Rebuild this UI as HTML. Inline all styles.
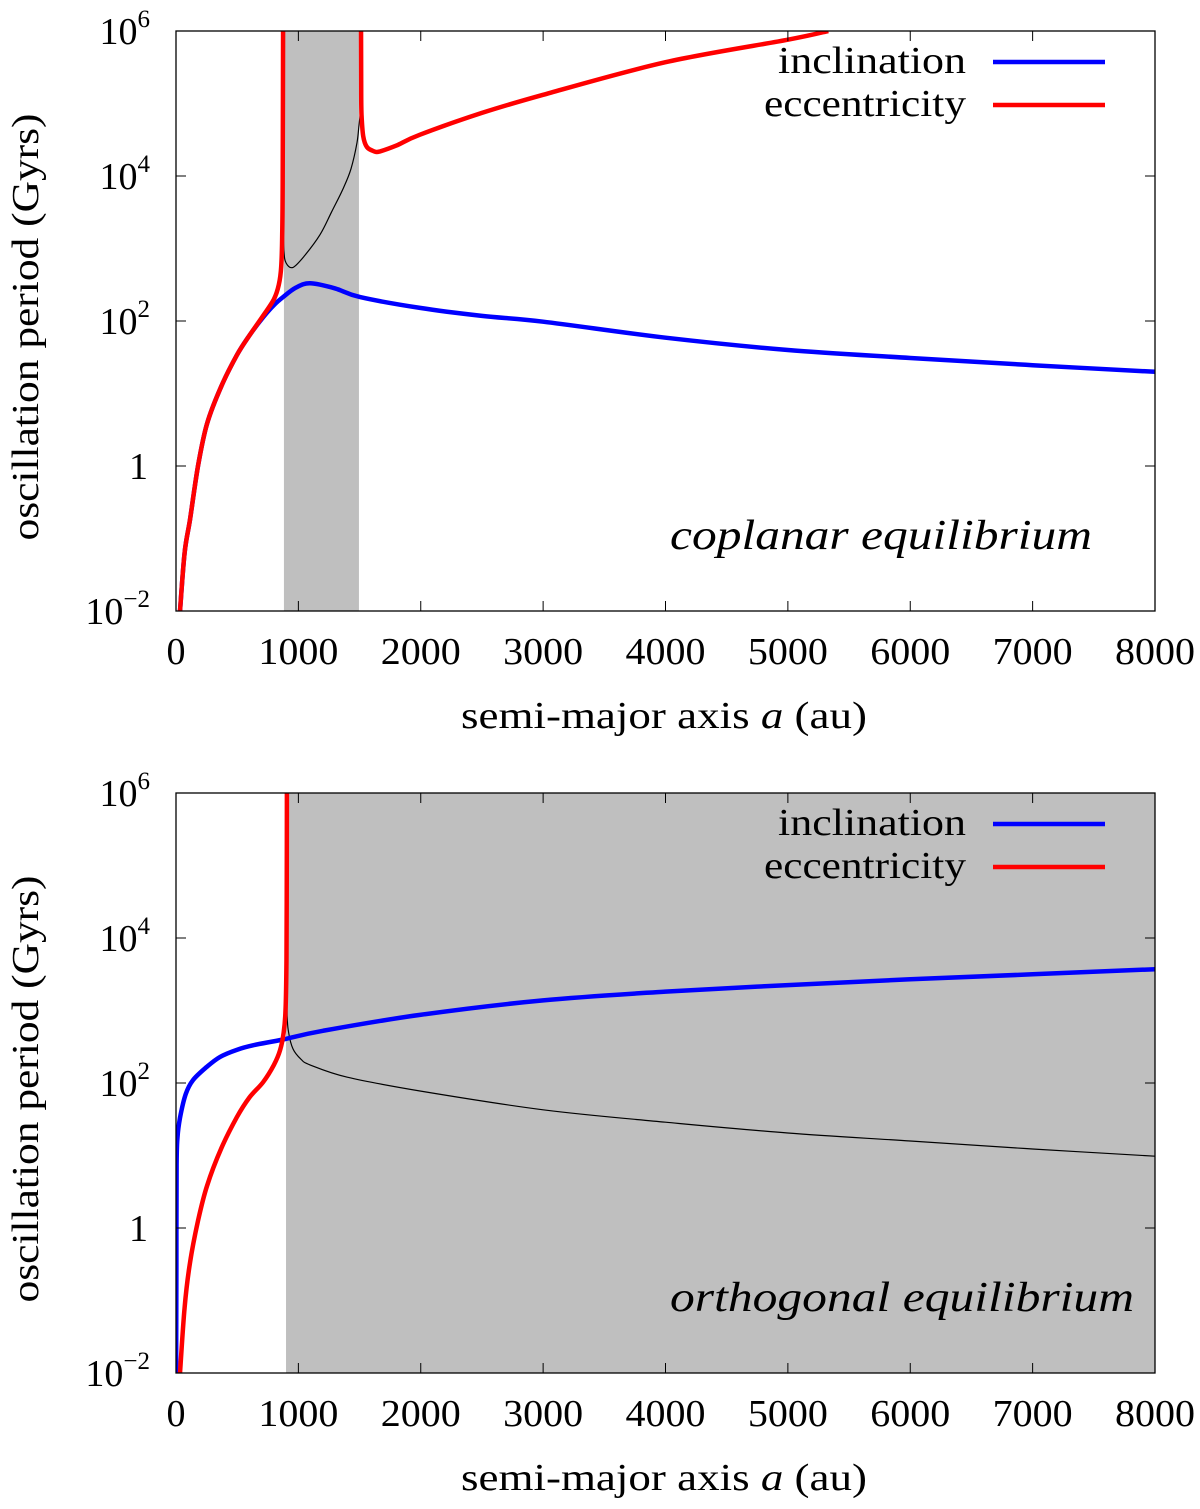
<!DOCTYPE html>
<html><head><meta charset="utf-8"><style>
body{margin:0;background:#fff}
svg text{font-family:"Liberation Serif",serif;fill:#000}
</style></head><body>
<svg id="c" width="1200" height="1504" viewBox="0 0 1200 1504" xmlns="http://www.w3.org/2000/svg"></svg>
<script>
// x ticks and y ticks
const xTicks=[0,1000,2000,3000,4000,5000,6000,7000,8000];
const yTicks=[-2,0,2,4,6];
// Top panel (coplanar): [a, log10 P]
const topBand=[882,1495];
const topIncA=[33,70,114,180,253,370,498,600,711,800,874,980,1095,1300,1504,1994,2500,3000,4000,5000,6000,7000,8000];
const topIncL=[-2,-1.2,-0.74,0,0.58,1.1,1.53,1.8,2.05,2.22,2.33,2.46,2.52,2.45,2.33,2.18,2.07,1.99,1.77,1.6,1.49,1.39,1.3];
const topEccLA=[33,70,114,180,253,370,498,600,711,800,840,860,868,872,875];
const topEccLL=[-2,-1.2,-0.74,0,0.58,1.1,1.53,1.8,2.07,2.3,2.5,2.75,3.2,4,6.2];
const topEccRA=[1512,1513,1516,1530,1560,1620,1667,1800,1994,2500,3000,4000,5000,5330];
const topEccRL=[6.2,5.2,4.85,4.55,4.4,4.34,4.34,4.42,4.57,4.87,5.12,5.57,5.88,6.0];
const topBlkA=[875,882,900,956,1050,1177,1270,1364,1430,1479,1495,1505,1512];
const topBlkL=[3.4,2.97,2.8,2.74,2.9,3.19,3.5,3.82,4.1,4.46,4.7,4.85,5.0];
// Bottom panel (orthogonal)
const botBand=[899,8000];
const botIncA=[1,3,5,12,33,80,139,250,360,500,629,874,1200,1994,3000,4000,5000,6000,7000,8000];
const botIncL=[-2,-0.5,0.87,1.25,1.52,1.85,2.04,2.22,2.36,2.46,2.52,2.6,2.72,2.94,3.14,3.26,3.35,3.43,3.5,3.57];
const botEccA=[33,70,114,180,253,370,498,600,711,800,850,880,895,902,905,906];
const botEccL=[-2,-1.1,-0.48,0.1,0.58,1.1,1.53,1.8,2.01,2.25,2.45,2.7,3.0,3.6,4.5,6.2];
const botBlkA=[905,907,920,956,1020,1095,1400,1994,3000,4000,5000,6000,7000,8000];
const botBlkL=[4.0,3.0,2.7,2.47,2.33,2.25,2.08,1.89,1.63,1.46,1.31,1.2,1.09,0.99];

const NS='http://www.w3.org/2000/svg';
const svg=document.getElementById('c');
const X0=176,X1=1155;
function el(t,a,p){const e=document.createElementNS(NS,t);for(const k in a)e.setAttribute(k,a[k]);(p||svg).appendChild(e);return e;}
function smooth(pts){
  let d='M'+pts[0][0].toFixed(1)+' '+pts[0][1].toFixed(1);
  for(let i=0;i<pts.length-1;i++){
    const p0=pts[Math.max(0,i-1)],p1=pts[i],p2=pts[i+1],p3=pts[Math.min(pts.length-1,i+2)];
    const c1=[p1[0]+(p2[0]-p0[0])/6,p1[1]+(p2[1]-p0[1])/6];
    const c2=[p2[0]-(p3[0]-p1[0])/6,p2[1]-(p3[1]-p1[1])/6];
    d+=' C'+c1.map(v=>v.toFixed(1)).join(' ')+' '+c2.map(v=>v.toFixed(1)).join(' ')+' '+p2[0].toFixed(1)+' '+p2[1].toFixed(1);
  }
  return d;
}
function txt(g,attrs,content,name){
  const t=el('text',attrs,g);
  if(content!==null)t.textContent=content;
  
  
  return t;
}
function panel(top,id,band,series,title){
  const bot=top+580;
  const sx=a=>X0+a*(X1-X0)/8000;
  const sy=l=>top+(6-l)*72.5;
  const g=el('g',{});
  
  
  const cp=el('clipPath',{id:'cl'+id},g);
  el('rect',{x:X0,y:top,width:X1-X0,height:580},cp);
  const b=el('rect',{x:sx(band[0]),y:top,width:sx(band[1])-sx(band[0]),height:580,fill:'#bfbfbf'},g);
  
  
  const pg=el('g',{'clip-path':'url(#cl'+id+')'},g);
  series.forEach(s=>{
    const pts=s.a.map((a,i)=>[sx(a),sy(s.l[i])]);
    const p=el('path',{d:smooth(pts),fill:'none',stroke:s.c,'stroke-width':s.w,'stroke-linejoin':'round'},pg);
    
    
  });
  el('rect',{x:X0,y:top,width:X1-X0,height:580,fill:'none',stroke:'#000','stroke-width':1.3},g);
  xTicks.forEach(t=>{
    const x=sx(t);
    el('line',{x1:x,x2:x,y1:bot,y2:bot-10,stroke:'#000','stroke-width':1},g);
    el('line',{x1:x,x2:x,y1:top,y2:top+10,stroke:'#000','stroke-width':1},g);
    const s=String(t);
    const a={x:x,y:bot+53,'font-size':38,'text-anchor':'middle'};
    if(s.length===4){a.textLength=80;a.lengthAdjust='spacingAndGlyphs';}
    txt(g,a,s,'x-tick-label');
  });
  yTicks.forEach(t=>{
    const y=sy(t);
    el('line',{x1:X0,x2:X0+10,y1:y,y2:y,stroke:'#000','stroke-width':1},g);
    el('line',{x1:X1,x2:X1-10,y1:y,y2:y,stroke:'#000','stroke-width':1},g);
    if(t===0){txt(g,{x:148,y:y+13,'font-size':38,'text-anchor':'end'},'1','y-tick-label');}
    else{
      const tx=txt(g,{x:150,y:y+13,'font-size':38,'text-anchor':'end'},null,'y-tick-label');
      const a=el('tspan',{},tx);a.textContent='10';
      const s=el('tspan',{dy:-17,'font-size':25},tx);s.textContent=String(t).replace('-','\u2212');
    }
  });
  const xl=txt(g,{x:664,y:bot+117,'font-size':38,'text-anchor':'middle',textLength:406,lengthAdjust:'spacingAndGlyphs'},null,'x-axis-title');
  xl.innerHTML='semi-major axis <tspan font-style="italic">a</tspan> (au)';
  txt(g,{x:0,y:0,'font-size':38,'text-anchor':'middle',textLength:427,lengthAdjust:'spacingAndGlyphs',transform:'translate(38,'+(top+296)+') rotate(-90)'},'oscillation period (Gyrs)','y-axis-title');
  [['inclination','#0000ff',top+42,188],['eccentricity','#ff0000',top+85,202]].forEach(L=>{
    txt(g,{x:966,y:L[2],'font-size':38,'text-anchor':'end',textLength:L[3],lengthAdjust:'spacingAndGlyphs'},L[0],'legend-'+L[0]);
    el('line',{x1:993,x2:1105,y1:L[2]-11,y2:L[2]-11,stroke:L[1],'stroke-width':4.5},g);
  });
  txt(g,{x:title[1],y:top+518,'font-size':42,'font-style':'italic','text-anchor':'end',textLength:title[2],lengthAdjust:'spacingAndGlyphs'},title[0],'panel-annotation');
}
panel(31,'coplanar-panel',topBand,[
 {a:topBlkA,l:topBlkL,c:'#000',w:1.2,n:'eccentricity-unstable-branch'},
 {a:topIncA,l:topIncL,c:'#0000ff',w:4.5,n:'inclination-line'},
 {a:topEccLA,l:topEccLL,c:'#ff0000',w:4.5,n:'eccentricity-line-left'},
 {a:topEccRA,l:topEccRL,c:'#ff0000',w:4.5,n:'eccentricity-line-right'}
],['coplanar equilibrium',1092,422]);
panel(793,'orthogonal-panel',botBand,[
 {a:botBlkA,l:botBlkL,c:'#000',w:1.2,n:'eccentricity-unstable-branch'},
 {a:botIncA,l:botIncL,c:'#0000ff',w:4.5,n:'inclination-line'},
 {a:botEccA,l:botEccL,c:'#ff0000',w:4.5,n:'eccentricity-line'}
],['orthogonal equilibrium',1134,464]);
</script>
</body></html>
